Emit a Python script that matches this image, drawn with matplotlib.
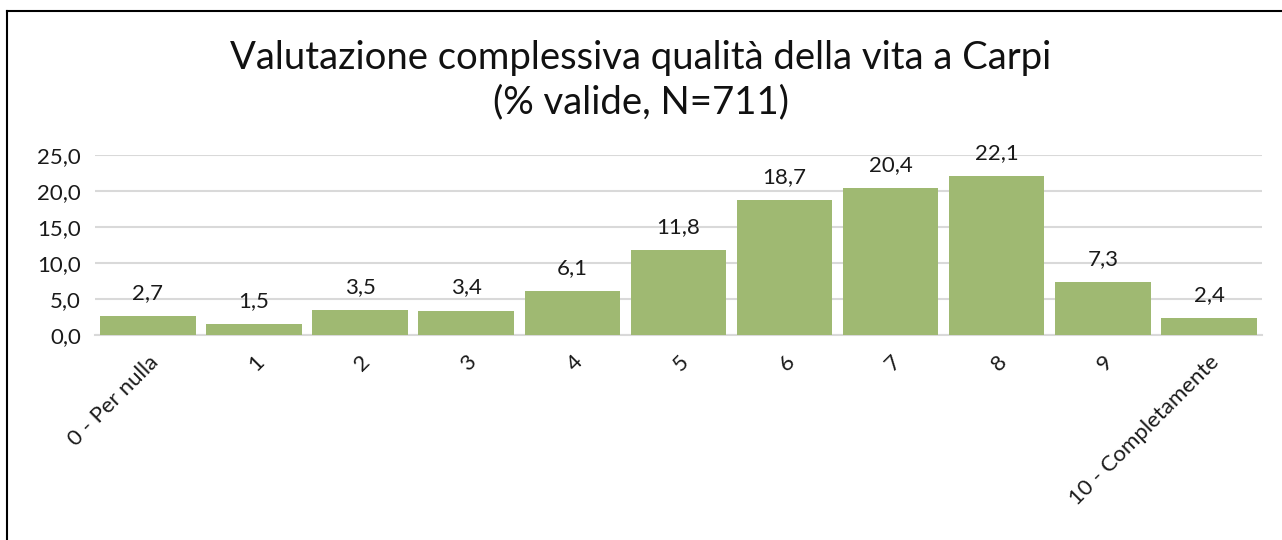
import numpy as np
import matplotlib.pyplot as plt
from matplotlib.lines import Line2D

# Data
categories = ["0 - Per nulla", "1", "2", "3", "4", "5", "6", "7", "8", "9", "10 - Completamente"]
values = [2.7, 1.5, 3.5, 3.4, 6.1, 11.8, 18.7, 20.4, 22.1, 7.3, 2.4]
yticks = [0, 5, 10, 15, 20, 25]

plt.rcParams['font.family'] = ['Lato', 'DejaVu Sans']

fig = plt.figure(figsize=(12.82, 5.40), dpi=100)
ax = fig.add_axes([0.074, 0.3796, 0.9104, 0.3334])

x = np.arange(len(categories))
ax.bar(x, values, width=0.9, color='#9fb972', zorder=3)

# value labels above the bars
for xi, v in zip(x, values):
    ax.text(xi, v + 1.8, f"{v:.1f}".replace('.', ','), ha='center', va='bottom',
            fontsize=16, color='#1a1a1a', zorder=4)

ax.set_xlim(-0.5, len(categories) - 0.5)
ax.set_ylim(0, 25)
ax.set_yticks(yticks)
ax.set_yticklabels([f"{t:.1f}".replace('.', ',') for t in yticks], fontsize=16, color='#1a1a1a')
ax.set_xticks(x)
ax.set_xticklabels(categories, rotation=45, ha='right', rotation_mode='anchor',
                   fontsize=16, color='#1a1a1a')
ax.tick_params(axis='both', length=0)
ax.tick_params(axis='y', pad=10)
ax.tick_params(axis='x', pad=12)

ax.grid(axis='y', color='#d9d9d9', linewidth=1.5, zorder=0)
for s in ['top', 'right', 'left']:
    ax.spines[s].set_visible(False)
ax.spines['bottom'].set_color('#d9d9d9')
ax.spines['bottom'].set_linewidth(1.5)

fig.text(0.5, 0.893, "Valutazione complessiva qualità della vita a Carpi",
         ha='center', va='center', fontsize=27.5, color='#111111')
fig.text(0.5, 0.811, "(% valide, N=711)", ha='center', va='center', fontsize=27.5,
         color='#111111')

# chart border (left and top sides visible in the crop)
fig.add_artist(Line2D([7 / 1282, 7 / 1282], [0, 1 - 11 / 540], transform=fig.transFigure,
                      color='black', linewidth=1.5))
fig.add_artist(Line2D([7 / 1282, 1], [1 - 11 / 540, 1 - 11 / 540], transform=fig.transFigure,
                      color='black', linewidth=1.5))

fig.savefig('out.png', dpi=100)
